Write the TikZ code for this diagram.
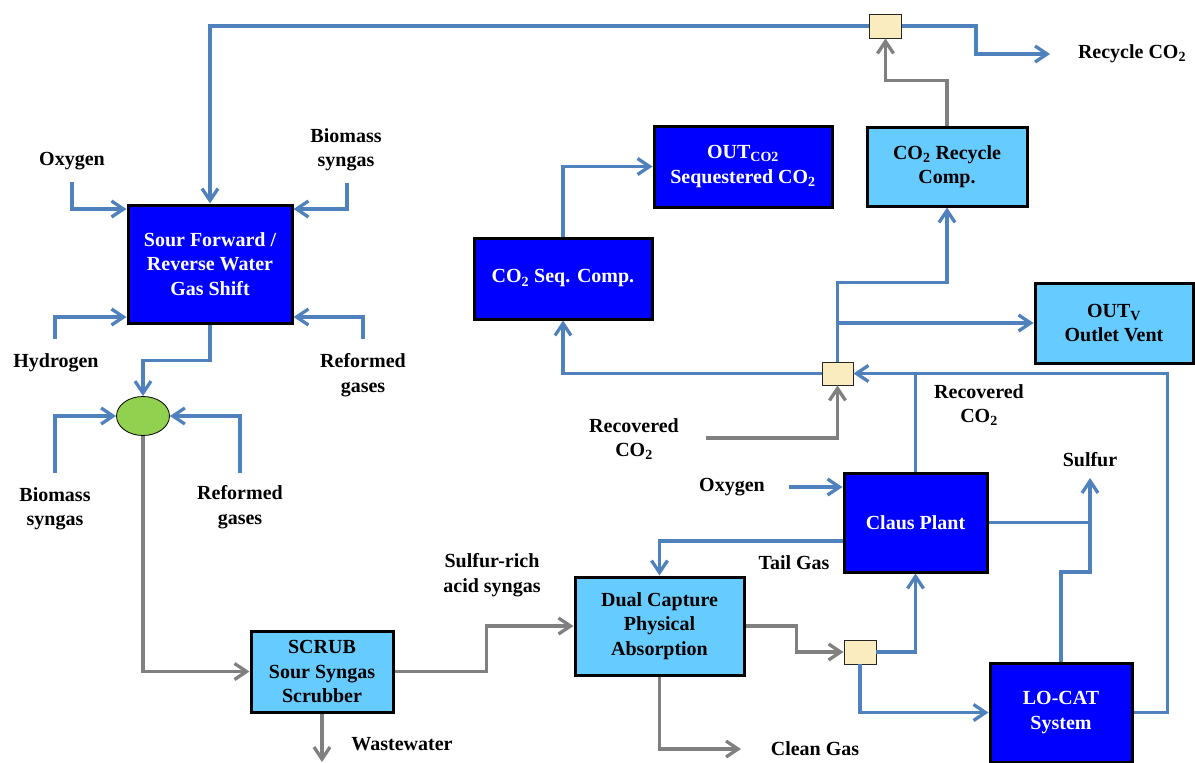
\documentclass[tikz,border=0pt]{standalone}
\usepackage{fontspec}
\setmainfont{Liberation Serif}
\usetikzlibrary{arrows.meta,shapes.geometric,calc}
\definecolor{flowblue}{RGB}{79,129,189}
\definecolor{flowgray}{RGB}{128,128,128}
\definecolor{unitdark}{RGB}{0,0,255}
\definecolor{unitlight}{RGB}{102,204,255}
\definecolor{mixfill}{RGB}{250,236,190}
\definecolor{greenfill}{RGB}{146,208,80}
\newcommand{\lbl}{\fontsize{20}{24.5}\selectfont\bfseries}
\begin{document}
\begin{tikzpicture}[x=1pt,y=-1pt,
  every node/.style={font=\lbl, align=center},
  unit/.style={draw=black, line width=3pt, inner sep=0pt, rectangle},
  darkunit/.style={unit, fill=unitdark, text=white},
  lightunit/.style={unit, fill=unitlight, text=black},
  mixer/.style={draw=black!85, line width=0.9pt, fill=mixfill, inner sep=0pt, minimum width=32pt, minimum height=24pt},
  tipb/.style={-{Straight Barb[length=12pt,width=16pt]}},
  bl/.style={draw=flowblue, line width=3.3pt},
  gr/.style={draw=flowgray, line width=3.3pt},
  lab/.style={text=black}]
\useasboundingbox (0,0) rectangle (1195,763);

% process units
\node[darkunit, minimum width=164pt, minimum height=118pt] (sour) at (210,264) {Sour Forward /\\Reverse Water\\Gas Shift};
\node[darkunit, minimum width=178pt, minimum height=81pt] (seq) at (563,278.5) {CO\textsubscript{2} Seq. Comp.};
\node[darkunit, minimum width=178pt, minimum height=81pt] (outco2) at (743,166.5) {OUT\textsubscript{CO2}\\Sequestered CO\textsubscript{2}};
\node[lightunit, minimum width=160pt, minimum height=79pt] (recyc) at (947,166.5) {CO\textsubscript{2} Recycle\\Comp.};
\node[lightunit, minimum width=158pt, minimum height=80pt] (outv) at (1114,323) {OUT\textsubscript{V}\\Outlet Vent};
\node[darkunit, minimum width=143pt, minimum height=99pt] (claus) at (915.5,522.5) {Claus Plant};
\node[lightunit, minimum width=169pt, minimum height=98pt] (dual) at (659.5,626) {Dual Capture\\Physical\\Absorption};
\node[lightunit, minimum width=142pt, minimum height=81pt] (scrub) at (322,671.5) {SCRUB\\Sour Syngas\\Scrubber};
\node[darkunit, minimum width=142pt, minimum height=99pt] (locat) at (1061,712.5) {LO-CAT\\System};

% mixing points
\node[mixer] (j1) at (885.5,26) {};
\node[mixer, minimum width=31pt, minimum height=23pt] (j2) at (837.5,373.5) {};
\node[mixer] (j3) at (860,652) {};
\node[ellipse, draw=black, line width=0.8pt, fill=greenfill, minimum width=53pt, minimum height=39pt, inner sep=0pt] (mix) at (143,416) {};

% stream labels
\node[lab] (lox1) at (72,161) {Oxygen};
\node[lab] (lbs1) at (346,150) {Biomass\\syngas};
\node[lab] (lhy) at (56,363) {Hydrogen};
\node[lab] (lrf1) at (363,375) {Reformed\\gases};
\node[lab] (lbs2) at (55,509) {Biomass\\syngas};
\node[lab] (lrf2) at (240,507) {Reformed\\gases};
\node[lab] (lsr) at (492,575) {Sulfur-rich\\acid syngas};
\node[lab] (lww) at (402,744) {Wastewater};
\node[lab] (lcg) at (815,749) {Clean Gas};
\node[lab] (ltg) at (794,563) {Tail Gas};
\node[lab] (lox2) at (732,487) {Oxygen};
\node[lab] (lrc1) at (634,439) {Recovered\\CO\textsubscript{2}};
\node[lab] (lrc2) at (979,405) {Recovered\\CO\textsubscript{2}};
\node[lab] (lsu) at (1090,460) {Sulfur};
\node[lab] (lrec) at (1132,54) {Recycle CO\textsubscript{2}};

% free stream ends
\coordinate (ox1) at (72,182);
\coordinate (bs1) at (347,183);
\coordinate (hy) at (55,339);
\coordinate (rf1) at (363,339);
\coordinate (bs2) at (55,473);
\coordinate (rf2) at (240,473);
\coordinate (rcend) at (1050,54);
\coordinate (rco) at (706,438);
\coordinate (ox2) at (789,487);
\coordinate (sulf) at (1090,478);
\coordinate (cgend) at (741,749);
\coordinate (wwend) at (322,762);

% feeds into the shift reactor
\draw[bl, tipb] (ox1) |- (sour.west |- 0,209);
\draw[bl, tipb] (bs1) |- (sour.east |- 0,209);
\draw[bl, tipb] (hy) |- (sour.west |- 0,317);
\draw[bl, tipb] (rf1) |- (sour.east |- 0,317);
\draw[bl, tipb] (j1.west) -| (sour.north);

% shift reactor to mixer and scrubber
\draw[bl, tipb] (sour.south) -- ++(0,36) -| (mix.north);
\draw[bl, tipb] (bs2) |- (mix.west);
\draw[bl, tipb] (rf2) |- (mix.east);
\draw[gr, tipb] (mix.south) |- (scrub.west);
\draw[gr, tipb] (scrub.south) -- (wwend);
\draw[gr, tipb] (scrub.east) -- ++(92,0) |- (dual.west);

% absorption section
\draw[gr, tipb] (dual.south) |- (cgend);
\draw[gr, tipb] (dual.east) -- ++(51,0) |- (j3.west);
\draw[bl, tipb] (j3.east) -| (claus.south);
\draw[bl, tipb] (j3.south) |- (locat.west);
\draw[bl, tipb] (claus.west |- 0,541) -| (dual.north);
\draw[bl, tipb] (ox2) -- (claus.west |- ox2);

% sulfur recovery
\draw[bl] (claus.east) -- (claus.east -| sulf);
\draw[bl, tipb] (locat.north) |- ($(sulf)+(0,94)$) -- (sulf);

% CO2 collection
\draw[bl] (claus.north) -- (claus.north |- j2.east);
\draw[bl, tipb] (locat.east) -- ++(34,0) |- (j2.east);
\draw[gr, tipb] (rco) -| (j2.south);
\draw[bl, tipb] (j2.west) -| (seq.south);
\draw[bl, tipb] (seq.north) |- (outco2.west);
\draw[bl, tipb] (j2.north) -- ++(0,-79) -| (recyc.south);
\draw[bl, tipb] (j2.north |- outv.west) -- (outv.west);

% CO2 recycle
\draw[gr, tipb] (recyc.north) -- ++(0,-45) -| (j1.south);
\draw[bl, tipb] (j1.east) -- ++(74,0) |- (rcend);
\end{tikzpicture}
\end{document}
